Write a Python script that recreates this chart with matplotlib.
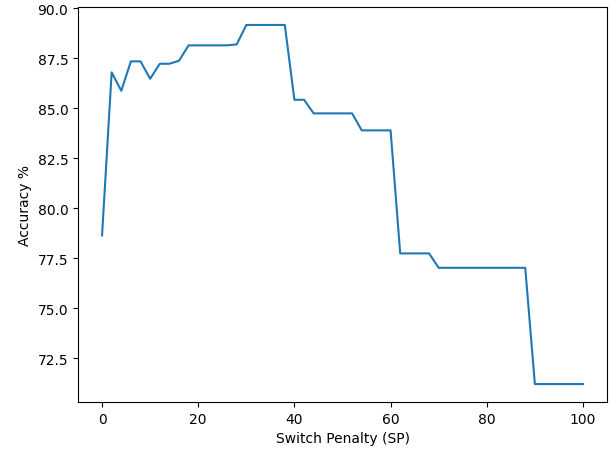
import matplotlib
matplotlib.use("Agg")
import matplotlib.pyplot as plt
import numpy as np

sp = list(range(0, 101, 2))
accuracy = [78.65, 86.8, 85.88, 87.35, 87.35, 86.48, 87.23, 87.23, 87.38, 88.15,
            88.15, 88.15, 88.15, 88.15, 88.2, 89.17, 89.17, 89.17, 89.17, 89.17,
            85.43, 85.43, 84.75, 84.75, 84.75, 84.75, 84.75, 83.9, 83.9, 83.9,
            83.9, 77.75, 77.75, 77.75, 77.75, 77.03, 77.03, 77.03, 77.03, 77.03,
            77.03, 77.03, 77.03, 77.03, 77.03, 71.22, 71.22, 71.22, 71.22, 71.22,
            71.22]

fig, ax = plt.subplots(figsize=(6.11, 4.52), dpi=100)
ax.plot(sp, accuracy)
ax.set_xlabel("Switch Penalty (SP)")
ax.set_ylabel("Accuracy %")
fig.subplots_adjust(left=78/611, right=607/611, top=1-8/452, bottom=1-403/452)
fig.savefig("out.png", dpi=100)
